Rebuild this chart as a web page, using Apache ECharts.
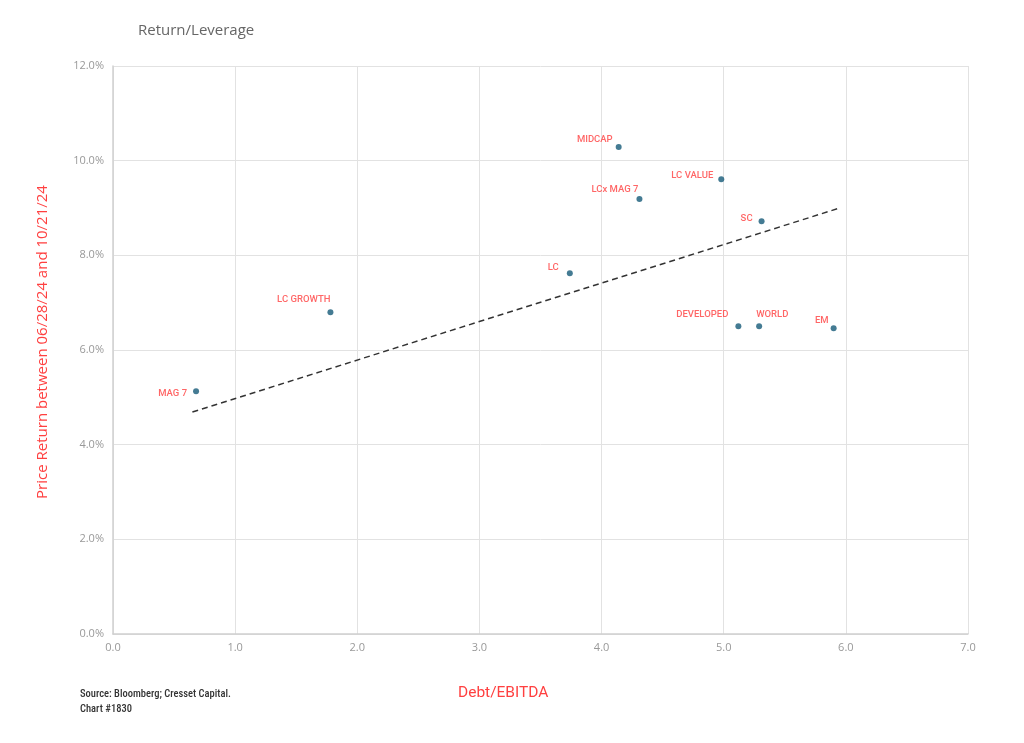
<!DOCTYPE html>
<html><head><meta charset="utf-8">
<script src="https://cdn.jsdelivr.net/npm/echarts@6/dist/echarts.min.js"></script>
<style>html,body{margin:0;padding:0;background:#fff}#c{width:1024px;height:743px}</style>
</head><body><div id="c"></div>
<script>
const names = ['MAG 7','LC GROWTH','LC','MIDCAP','LCx MAG 7','LC VALUE','SC','DEVELOPED','WORLD','EM'];
const debtEbitda = [0.68, 1.78, 3.74, 4.14, 4.31, 4.98, 5.31, 5.12, 5.29, 5.90];
const priceReturn = [5.13, 6.80, 7.62, 10.29, 9.19, 9.61, 8.72, 6.50, 6.50, 6.46];
const trendX = [0.65, 5.95];
const trendY = [4.69, 9.00];
const xTicks = [0,1,2,3,4,5,6,7];
const yTicks = [0,2,4,6,8,10,12];

// label layout (pixel offsets from point centre, alignment)
const labelLayout = [
  {dx:-9, dy:2, align:'right'},
  {dx:0, dy:-13, align:'right'},
  {dx:-11, dy:-6, align:'right'},
  {dx:-6, dy:-7, align:'right'},
  {dx:-1, dy:-9, align:'right'},
  {dx:-8, dy:-4, align:'right'},
  {dx:-9, dy:-3, align:'right'},
  {dx:-10, dy:-12, align:'right'},
  {dx:-3, dy:-12, align:'left'},
  {dx:-5, dy:-8, align:'right'}
];

const chart = echarts.init(document.getElementById('c'), null, {renderer:'canvas'});
const pts = names.map((n,i)=>({
  value:[debtEbitda[i], priceReturn[i]],
  name:n,
  label:{
    show:true, formatter:n,
    position:[3+labelLayout[i].dx, 3+labelLayout[i].dy],
    align:labelLayout[i].align, verticalAlign:'middle',
    color:'#ff4040', fontSize:9.5, fontWeight:500, fontFamily:'Roboto'
  }
}));
chart.setOption({
  animation:false,
  backgroundColor:'#fff',
  title:[
    {text:'Return/Leverage', left:133, top:18, textStyle:{color:'#666', fontSize:15, fontWeight:'normal', fontFamily:'Open Sans'}},
    {text:'Debt/EBITDA', left:453, top:680, textStyle:{color:'#ff4040', fontSize:15.5, fontWeight:'normal', fontFamily:'Roboto'}},
    {text:'Source: Bloomberg; Cresset Capital.\nChart #1830', left:75, top:682, textStyle:{color:'#333', fontSize:10.5, fontWeight:500, fontFamily:'Roboto Condensed, Liberation Sans Narrow, Roboto', lineHeight:15}}
  ],
  grid:{left:113, right:56, top:66, bottom:109},
  xAxis:{
    type:'value', min:0, max:7, interval:1,
    axisLine:{show:true, lineStyle:{color:'#d0d0d0', width:1.5}},
    axisTick:{show:false},
    splitLine:{show:true, lineStyle:{color:'#e2e2e2'}},
    axisLabel:{color:'#999', fontSize:11, fontFamily:'Open Sans', margin:8, formatter:v=>xTicks.includes(v)?v.toFixed(1):''}
  },
  yAxis:{
    type:'value', min:0, max:12, interval:2,
    name:'Price Return between 06/28/24 and 10/21/24', nameLocation:'middle', nameGap:63, nameRotate:90,
    nameTextStyle:{color:'#ff4040', fontSize:15, fontFamily:'Open Sans', padding:[0,0,0,16]},
    axisLine:{show:true, lineStyle:{color:'#d0d0d0', width:1.5}},
    axisTick:{show:false},
    splitLine:{show:true, lineStyle:{color:'#e2e2e2'}},
    axisLabel:{color:'#999', fontSize:11, fontFamily:'Open Sans', margin:9, formatter:v=>yTicks.includes(v)?v.toFixed(1)+'%':''}
  },
  series:[
    {type:'line', data:trendX.map((x,i)=>[x,trendY[i]]), symbol:'none', lineStyle:{color:'#333', width:1.5, type:[6,4]}, z:1},
    {type:'scatter', data:pts, symbolSize:6, itemStyle:{color:'#155a78'}, z:3}
  ]
});
</script></body></html>
